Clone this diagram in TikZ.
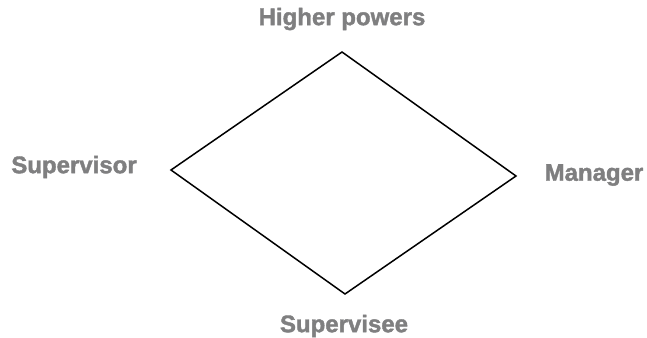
\documentclass[tikz,border=0pt]{standalone}
\usepackage{fontspec}
\setmainfont{Liberation Sans}
\newfontfamily\heavyfont[FakeBold=1.6]{Liberation Sans Bold}
\usepackage{xcolor}
\definecolor{labelgray}{HTML}{7F7F80}

\begin{document}
\begin{tikzpicture}[x=1pt,y=-1pt,
  role/.style={text=labelgray,font=\fontsize{24}{28}\heavyfont,inner sep=0pt,anchor=center}]
\useasboundingbox (0,0) rectangle (647,337);
% Ecken der Raute
\coordinate (top) at (342,52);
\coordinate (left) at (171,170);
\coordinate (right) at (516,176);
\coordinate (bottom) at (345,294);
\draw[line width=1.5pt] (top) -- (right) -- (bottom) -- (left) -- cycle;
% Beschriftungen
\node[role] (higher) at (342,19) {Higher powers};
\node[role] (supervisor) at (74,167) {Supervisor};
\node[role] (manager) at (594,175) {Manager};
\node[role] (supervisee) at (344,326) {Supervisee};
\end{tikzpicture}
\end{document}
